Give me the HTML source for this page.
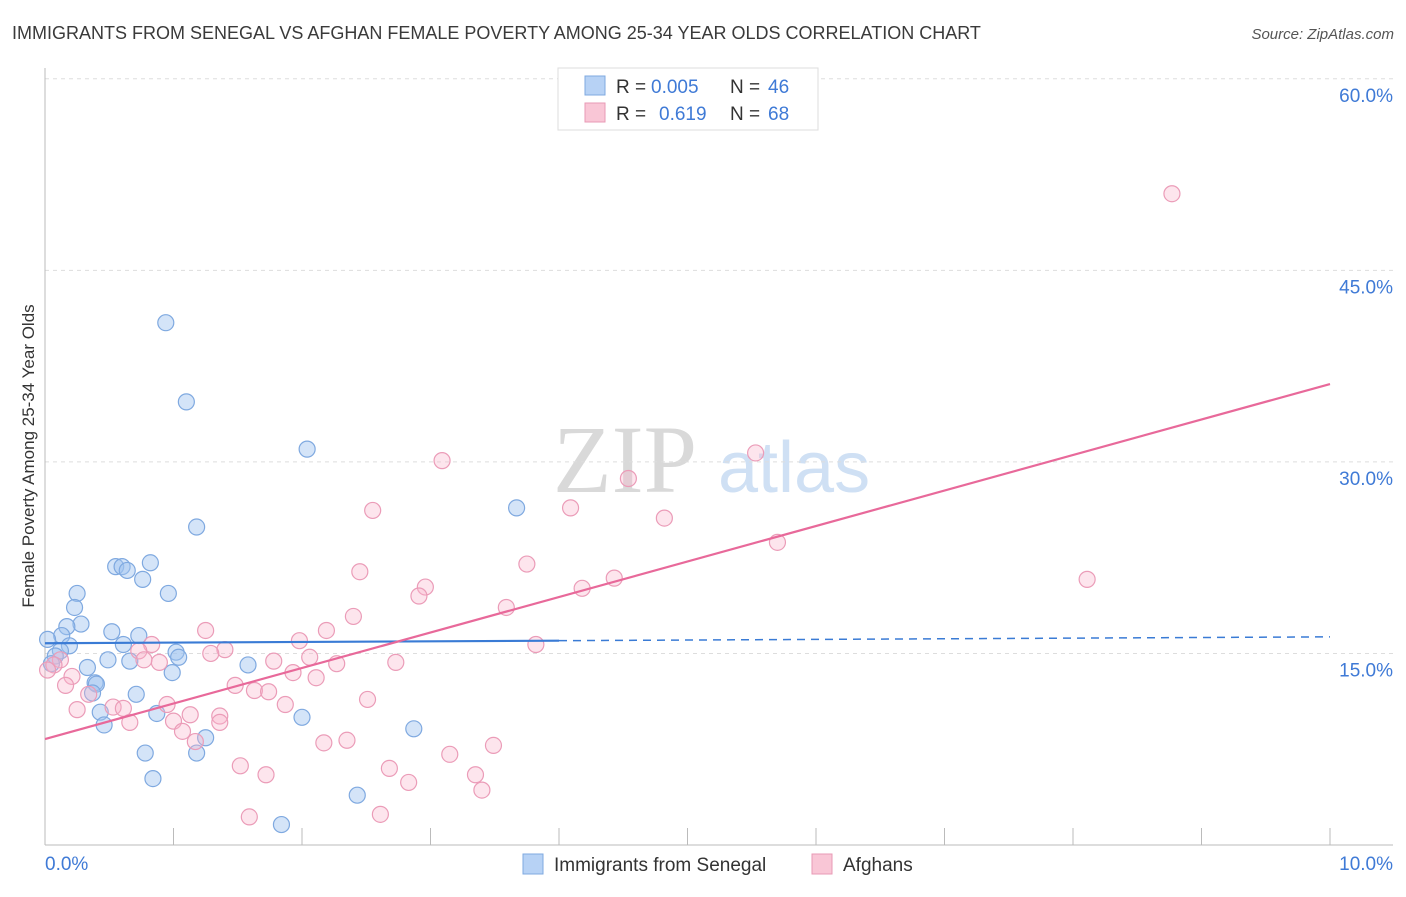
<!DOCTYPE html>
<html><head><meta charset="utf-8"><style>
body{margin:0;background:#fff;font-family:"Liberation Sans",sans-serif}
svg text{font-family:"Liberation Sans",sans-serif}
</style></head><body>
<svg id="chart" width="1406" height="892" viewBox="0 0 1406 892" xmlns="http://www.w3.org/2000/svg">
<text x="12" y="39" font-size="18" fill="#3a3a3a">IMMIGRANTS FROM SENEGAL VS AFGHAN FEMALE POVERTY AMONG 25-34 YEAR OLDS CORRELATION CHART</text>
<text x="1394" y="39" font-size="15" fill="#555" text-anchor="end" font-style="italic">Source: ZipAtlas.com</text>
<g>
<text x="553" y="492" font-size="96" fill="#d9d9d9" font-family="Liberation Serif" style="font-family:'Liberation Serif',serif">ZIP</text>
<text x="718" y="492" font-size="72" fill="#cfe0f4">atlas</text>
</g>
<g id="grid"></g>
<g id="axes"></g>
<g id="marks"></g>
<text transform="translate(34,456) rotate(-90)" font-size="17" fill="#333" text-anchor="middle">Female Poverty Among 25-34 Year Olds</text>
<g>
<rect x="558" y="68" width="260" height="62" fill="#fff" stroke="#ddd"/>
<rect x="585" y="76" width="20" height="19" fill="#b7d2f5" stroke="#7fa9e0"/>
<text x="616" y="93" font-size="19" fill="#333">R = </text><text x="651" y="93" font-size="19" fill="#3f7ad6">0.005</text>
<text x="730" y="93" font-size="19" fill="#333">N = </text><text x="768" y="93" font-size="19" fill="#3f7ad6">46</text>
<rect x="585" y="103" width="20" height="19" fill="#f9c6d6" stroke="#e89ab5"/>
<text x="616" y="120" font-size="19" fill="#333">R = </text><text x="659" y="120" font-size="19" fill="#3f7ad6">0.619</text>
<text x="730" y="120" font-size="19" fill="#333">N = </text><text x="768" y="120" font-size="19" fill="#3f7ad6">68</text>
</g>
<g>
<rect x="523" y="854" width="20" height="20" fill="#b7d2f5" stroke="#7fa9e0"/>
<text x="554" y="871" font-size="19" fill="#333">Immigrants from Senegal</text>
<rect x="812" y="854" width="20" height="20" fill="#f9c6d6" stroke="#e89ab5"/>
<text x="843" y="871" font-size="19" fill="#333">Afghans</text>
</g>
</svg>
<script>
const yTicks=[15,30,45,60];
const yTickLabels=["15.0%","30.0%","45.0%","60.0%"];
const xTicks=[0,1,2,3,4,5,6,7,8,9,10];
const blueX=[0.94,1.10,2.04,3.67,1.18,0.82,0.55,0.60,0.64,0.76,0.96,0.25,0.23,0.28,0.17,0.13,0.02,0.52,0.73,0.61,0.19,0.12,1.02,1.04,0.49,0.66,0.08,0.05,0.33,0.99,1.58,0.39,0.40,0.37,0.71,0.43,0.87,2.00,0.46,2.87,1.25,0.78,1.18,0.84,2.43,1.84];
const blueY=[40.9,34.7,31.0,26.4,24.9,22.1,21.8,21.8,21.5,20.8,19.7,19.7,18.6,17.3,17.1,16.4,16.1,16.7,16.4,15.7,15.6,15.2,15.1,14.7,14.5,14.4,14.8,14.2,13.9,13.5,14.1,12.7,12.6,11.9,11.8,10.4,10.3,10.0,9.4,9.1,8.4,7.2,7.2,5.2,3.9,1.6];
const pinkX=[8.77,5.53,3.09,4.54,2.55,4.09,4.82,5.70,3.75,2.45,2.96,2.91,4.43,4.18,8.11,3.59,2.40,1.25,2.19,1.98,3.82,0.83,0.73,1.40,1.29,2.06,0.89,0.77,0.12,0.07,0.02,1.78,2.27,2.73,1.93,2.11,0.21,0.16,1.48,1.63,1.74,0.34,2.51,0.25,0.95,0.53,0.61,1.87,1.36,1.13,1.00,0.66,1.36,1.07,1.17,2.17,2.35,3.49,3.15,1.52,2.68,1.72,3.35,2.83,3.40,1.59,2.61];
const pinkY=[51.0,30.7,30.1,28.7,26.2,26.4,25.6,23.7,22.0,21.4,20.2,19.5,20.9,20.1,20.8,18.6,17.9,16.8,16.8,16.0,15.7,15.7,15.2,15.3,15.0,14.7,14.3,14.5,14.5,14.1,13.7,14.4,14.2,14.3,13.5,13.1,13.2,12.5,12.5,12.1,12.0,11.8,11.4,10.6,11.0,10.8,10.7,11.0,10.1,10.2,9.7,9.6,9.6,8.9,8.1,8.0,8.2,7.8,7.1,6.2,6.0,5.5,5.5,4.9,4.3,2.2,2.4];
const blueTrend=[15.8,16.0,16.3]; // at x=0, 4, 10
const pinkTrend=[8.3,36.1]; // at x=0, 10
const X=v=>45+v*128.5, Y=v=>845-v*12.77;
const NS="http://www.w3.org/2000/svg";
function mk(t,a,p){const e=document.createElementNS(NS,t);for(const k in a)e.setAttribute(k,a[k]);p.appendChild(e);return e;}
const grid=document.getElementById('grid'),axes=document.getElementById('axes'),marks=document.getElementById('marks');
yTicks.forEach((t,i)=>{
 const l=mk('line',{x1:45,x2:1393,y1:Y(t),y2:Y(t),stroke:'#ddd','stroke-dasharray':'4,4'},grid);
 
 
 const tx=mk('text',{x:1393,y:Y(t)+23,'font-size':19,fill:'#3f7ad6','text-anchor':'end'},axes);
 tx.textContent=yTickLabels[i];
 
 
});
let a=mk('line',{x1:45,x2:45,y1:68,y2:845,stroke:'#bbb'},axes);


a=mk('line',{x1:45,x2:1393,y1:845,y2:845,stroke:'#bbb'},axes);


xTicks.forEach(t=>{
 const l=mk('line',{x1:X(t),x2:X(t),y1:828,y2:845,stroke:'#bbb'},axes);
 
 
});
let t0=mk('text',{x:45,y:870,'font-size':19,fill:'#3f7ad6'},axes);t0.textContent='0.0%';


let t1=mk('text',{x:1393,y:870,'font-size':19,fill:'#3f7ad6','text-anchor':'end'},axes);t1.textContent='10.0%';


blueX.forEach((x,i)=>{
 const c=mk('circle',{cx:X(x),cy:Y(blueY[i]),r:8,fill:'rgba(160,196,240,0.45)',stroke:'#7fa9e0','stroke-width':1.2},marks);
 
 
});
pinkX.forEach((x,i)=>{
 const c=mk('circle',{cx:X(x),cy:Y(pinkY[i]),r:8,fill:'rgba(248,180,202,0.35)',stroke:'#eb9cb8','stroke-width':1.2},marks);
 
 
});
let tl=mk('line',{x1:X(0),y1:Y(blueTrend[0]),x2:X(4),y2:Y(blueTrend[1]),stroke:'#3a7bd5','stroke-width':2.2},marks);


tl=mk('line',{x1:X(4),y1:Y(blueTrend[1]),x2:X(10),y2:Y(blueTrend[2]),stroke:'#3a7bd5','stroke-width':1.5,'stroke-dasharray':'8,6'},marks);


tl=mk('line',{x1:X(0),y1:Y(pinkTrend[0]),x2:X(10),y2:Y(pinkTrend[1]),stroke:'#e8699a','stroke-width':2.2},marks);


</script>
</body></html>
